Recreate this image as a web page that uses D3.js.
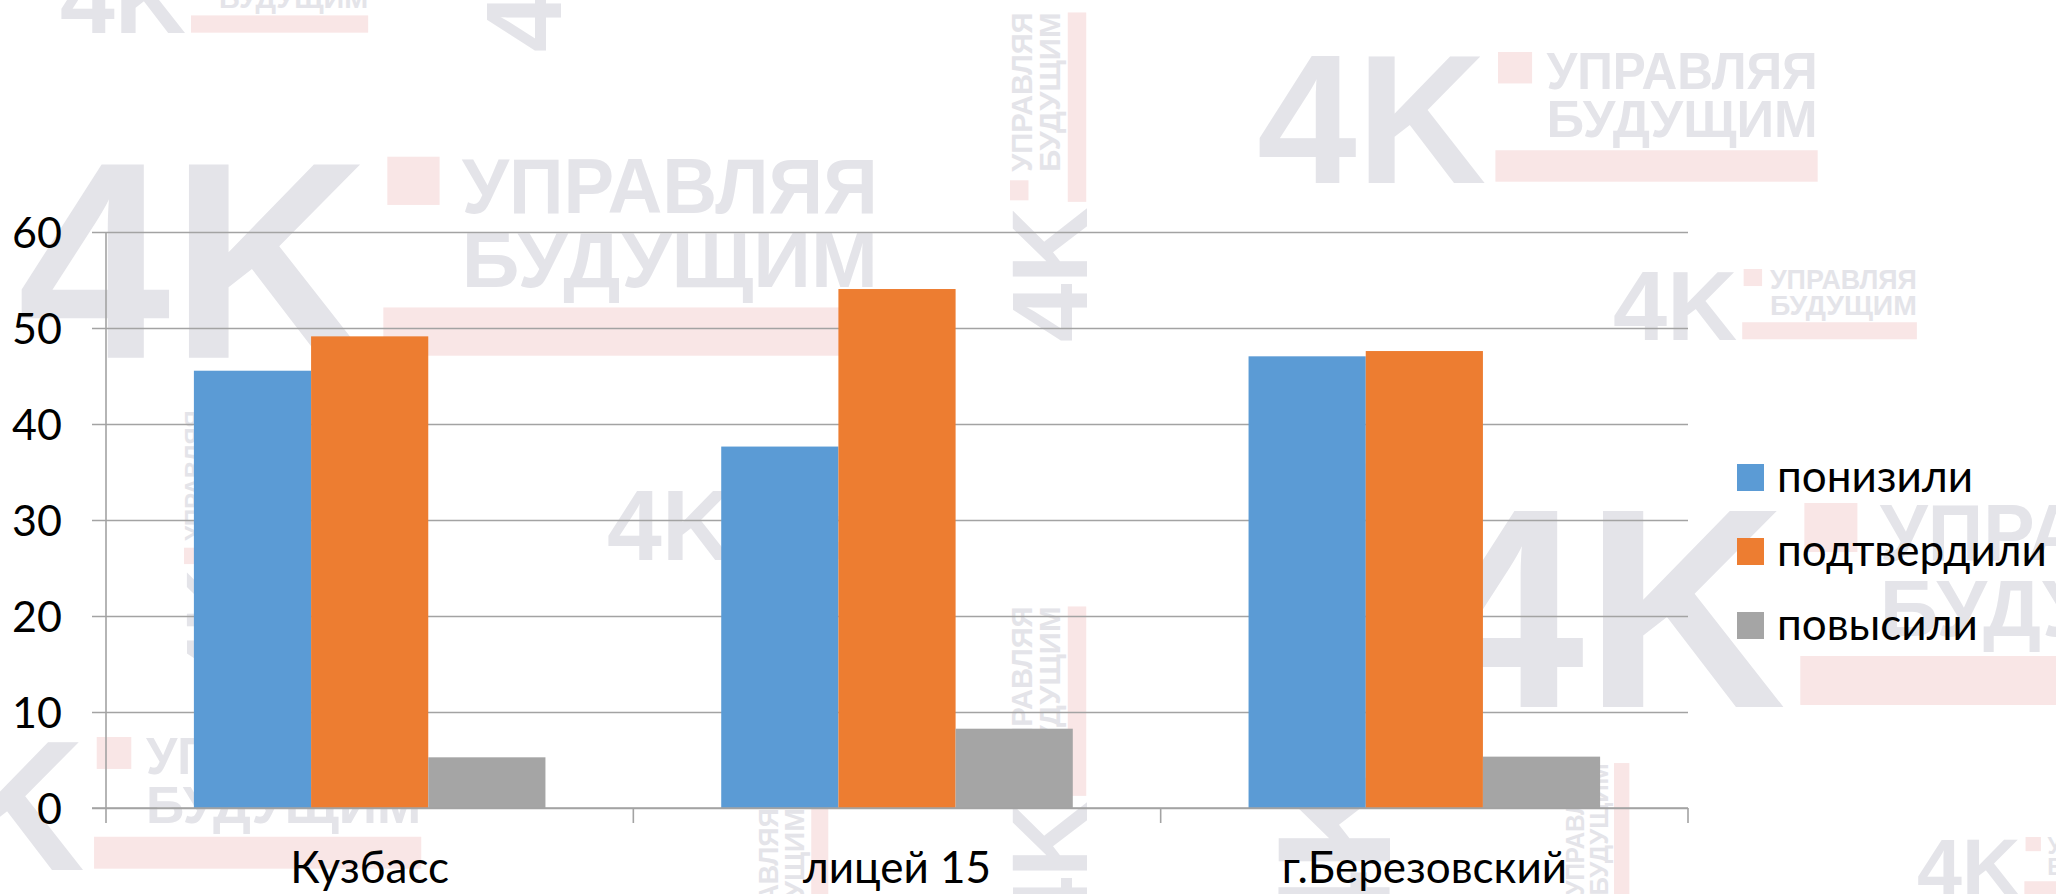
<!DOCTYPE html>
<html>
<head>
<meta charset="utf-8">
<script src="https://cdn.jsdelivr.net/npm/d3@7"></script>
<style>
  html, body { margin: 0; padding: 0; background: #ffffff; }
  svg { display: block; }
</style>
</head>
<body>
<div id="chart"></div>
<script>
// ---- data ----
const categories = ["Кузбасс", "лицей 15", "г.Березовский"];
const seriesNames = ["понизили", "подтвердили", "повысили"];
const valuesLowered = [45.55, 37.65, 47.05];
const valuesConfirmed = [49.13, 54.06, 47.6];
const valuesRaised = [5.28, 8.26, 5.35];
const yTicks = [0, 10, 20, 30, 40, 50, 60];
const seriesColors = ["#5b9bd5", "#ed7d31", "#a5a5a5"];

const seriesValues = [valuesLowered, valuesConfirmed, valuesRaised];
const table = categories.map((c, i) => ({
  category: c,
  values: seriesNames.map((s, j) => ({ series: s, value: seriesValues[j][i] }))
}));

const W = 2056, H = 894;
const svg = d3.select("#chart").append("svg").attr("width", W).attr("height", H);

// ---- background watermark (decorative logo tiles) ----
const wmGray = "#e4e4e9", wmPink = "#f9e6e6";
const wmLayer = svg.append("g").attr("class", "watermark");
function logo(x, y, h, rot) {
  const g = wmLayer.append("g").attr("transform", `translate(${x},${y}) rotate(${rot || 0})`);
  g.append("text").attr("x", 0).attr("y", h)
    .attr("font-family", "'Liberation Sans', Arial, sans-serif").attr("font-weight", "bold")
    .attr("font-size", 1.397 * h).attr("fill", wmGray)
    .attr("textLength", 1.75 * h).attr("lengthAdjust", "spacingAndGlyphs").text("4K");
  g.append("rect").attr("x", 1.84 * h).attr("y", 0).attr("width", 0.26 * h).attr("height", 0.24 * h).attr("fill", wmPink);
  g.append("text").attr("x", 2.21 * h).attr("y", 0.28 * h)
    .attr("font-family", "'Liberation Sans', Arial, sans-serif").attr("font-weight", "bold")
    .attr("font-size", 0.39 * h).attr("fill", wmGray)
    .attr("textLength", 2.07 * h).attr("lengthAdjust", "spacingAndGlyphs").text("УПРАВЛЯЯ");
  g.append("text").attr("x", 2.21 * h).attr("y", 0.65 * h)
    .attr("font-family", "'Liberation Sans', Arial, sans-serif").attr("font-weight", "bold")
    .attr("font-size", 0.39 * h).attr("fill", wmGray)
    .attr("textLength", 2.07 * h).attr("lengthAdjust", "spacingAndGlyphs").text("БУДУЩИМ");
  g.append("rect").attr("x", 1.82 * h).attr("y", 0.75 * h).attr("width", 2.46 * h).attr("height", 0.24 * h).attr("fill", wmPink);
}
logo(17.5, 156.7, 201, 0);
logo(60, -38.6, 72, 0);
logo(1257, 52, 131, 0);
logo(1613, 269, 71, 0);
logo(1429, 503, 204, 0);
logo(-148, 737, 133, 0);
logo(607, 488, 72, 0);
logo(1917, 837, 59, 0);
logo(1010, 342, 77, -90);
logo(484, 52, 77, -90);
logo(1010, 936, 77, -90);
logo(758, 1112, 71, -90);
logo(184, 680, 63, -90);
logo(1566, 1037, 64, -90);
logo(1274, 960, 116, -90);

// ---- scales ----
const plotLeft = 106, plotRight = 1688, plotTop = 232, plotBottom = 808;
const x0 = d3.scaleBand().domain(categories).range([plotLeft, plotRight]).paddingInner(0).paddingOuter(0);
const x1 = d3.scaleBand().domain(seriesNames).range([0, x0.bandwidth()]).paddingInner(0).paddingOuter(0.75);
const y = d3.scaleLinear().domain([0, 60]).range([plotBottom, plotTop]);
const color = d3.scaleOrdinal().domain(seriesNames).range(seriesColors);

const axisColor = "#a3a3a3";
const labelFont = "Lato, 'Open Sans', 'Noto Sans', sans-serif";

// gridlines (extend left as tick marks)
const yAxis = d3.axisLeft(y).tickValues(yTicks).tickSize(-(plotRight - plotLeft)).tickSizeOuter(0).tickPadding(30).tickFormat(d3.format("d"));
const gy = svg.append("g").attr("transform", `translate(${plotLeft},0)`).call(yAxis);
gy.select(".domain").remove();
gy.selectAll(".tick line").attr("x1", -14).attr("stroke", axisColor).attr("stroke-width", 1.6);
gy.selectAll(".tick text").attr("font-family", labelFont).attr("font-size", 43).attr("fill", "#000")
  .attr("x", -(plotLeft - 62)).attr("dy", "0.35em");

// bars
const groups = svg.append("g").selectAll("g").data(table).join("g")
  .attr("transform", d => `translate(${x0(d.category)},0)`);
groups.selectAll("rect").data(d => d.values).join("rect")
  .attr("x", d => x1(d.series))
  .attr("y", d => y(d.value))
  .attr("width", x1.bandwidth())
  .attr("height", d => y(0) - y(d.value))
  .attr("fill", d => color(d.series));

// y axis line
svg.append("line").attr("x1", plotLeft).attr("x2", plotLeft).attr("y1", plotTop).attr("y2", plotBottom)
  .attr("stroke", axisColor).attr("stroke-width", 1.6);

// x axis
const xAxis = d3.axisBottom(x0).tickSize(0).tickSizeOuter(0).tickPadding(0);
const gx = svg.append("g").attr("transform", `translate(0,${plotBottom})`).call(xAxis);
gx.select(".domain").attr("stroke", axisColor).attr("stroke-width", 1.6).attr("d", `M${plotLeft - 14},0H${plotRight}`);
gx.selectAll(".tick text").attr("font-family", labelFont).attr("font-size", 44).attr("fill", "#000")
  .attr("y", 75).attr("dy", 0);
// category boundary tick marks
const boundaries = categories.map(c => x0(c)).concat([x0(categories[categories.length - 1]) + x0.bandwidth()]);
gx.selectAll("line.bound").data(boundaries).join("line").attr("class", "bound")
  .attr("x1", d => d).attr("x2", d => d).attr("y1", 0).attr("y2", 15)
  .attr("stroke", axisColor).attr("stroke-width", 1.6);

// legend
const legend = svg.append("g").attr("transform", "translate(1737,464)");
const li = legend.selectAll("g").data(seriesNames).join("g").attr("transform", (d, i) => `translate(0,${i * 74})`);
li.append("rect").attr("width", 27).attr("height", 27).attr("fill", d => color(d));
li.append("text").attr("x", 40).attr("y", 28).attr("font-family", labelFont)
  .attr("font-size", 44).attr("fill", "#000").text(d => d);
</script>
</body>
</html>
